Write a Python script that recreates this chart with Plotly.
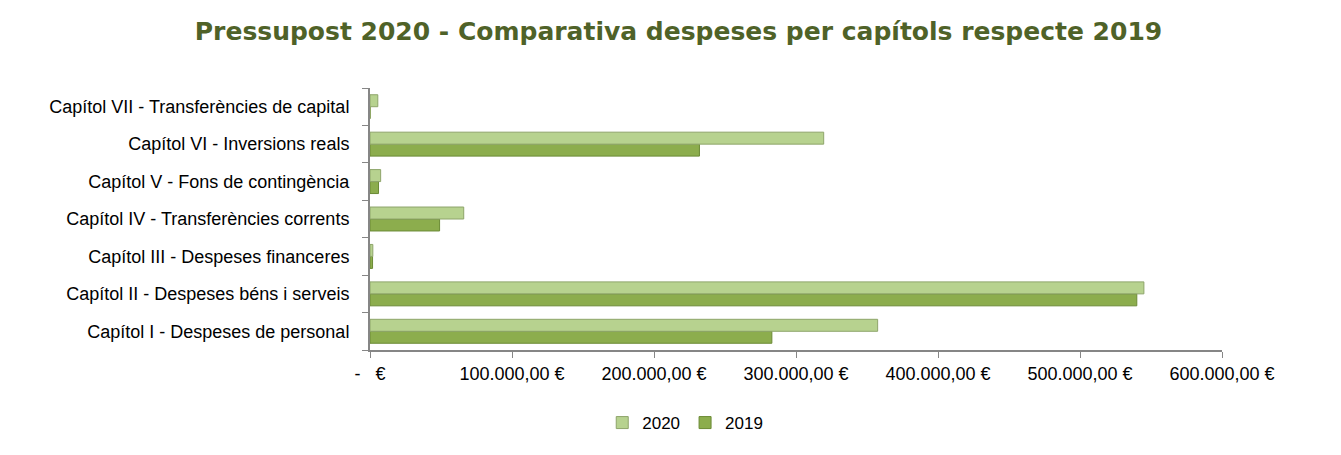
import plotly.graph_objects as go

categories = [
    "Capítol I - Despeses de personal",
    "Capítol II - Despeses béns i serveis",
    "Capítol III - Despeses financeres",
    "Capítol IV - Transferències corrents",
    "Capítol V - Fons de contingència",
    "Capítol VI - Inversions reals",
    "Capítol VII - Transferències de capital",
]
values_2020 = [357500, 545000, 2000, 66000, 7500, 319500, 5500]
values_2019 = [283000, 540000, 1800, 49000, 6000, 232000, 0]

tick_vals = [0, 100000, 200000, 300000, 400000, 500000, 600000]
tick_text = ["-   €", "100.000,00 €", "200.000,00 €", "300.000,00 €",
             "400.000,00 €", "500.000,00 €", "600.000,00 €"]

c2020 = "#b7d28f"
c2019 = "#8cad4d"

fig = go.Figure()
fig.add_trace(go.Bar(
    y=categories, x=values_2019, orientation="h", name="2019",
    marker=dict(color=c2019, line=dict(color="#6b8a35", width=1)),
))
fig.add_trace(go.Bar(
    y=categories, x=values_2020, orientation="h", name="2020",
    marker=dict(color=c2020, line=dict(color="#8ea56a", width=1)),
))

fig.update_layout(
    width=1341, height=455,
    paper_bgcolor="white", plot_bgcolor="white",
    margin=dict(l=362, r=127, t=80, b=113),
    barmode="group", bargap=0.36, bargroupgap=0.0,
    title=dict(
        text="<b>Pressupost 2020 - Comparativa despeses per capítols respecte 2019</b>",
        x=0.5, xanchor="center", y=0.95, yanchor="middle",
        font=dict(family="DejaVu Sans", size=25, color="#4f6228"),
    ),
    font=dict(family="Liberation Sans", size=18, color="#000000"),
    legend=dict(
        orientation="h", x=0.37, xanchor="center", y=-0.21, yanchor="top",
        traceorder="reversed", font=dict(size=17), itemwidth=30,
    ),
    xaxis=dict(
        range=[0, 600000], tickvals=tick_vals, ticktext=tick_text,
        showgrid=False, zeroline=False, showline=True, linecolor="#868686",
        linewidth=2, ticks="outside", tickcolor="#868686", ticklen=6,
        tickfont=dict(size=18),
    ),
    yaxis=dict(
        showgrid=False, zeroline=False, showline=True, linecolor="#868686",
        linewidth=2, ticks="outside", tickson="boundaries", ticklen=6,
        tickcolor="#868686", tickfont=dict(size=18), ticklabelstandoff=15,
    ),
)

fig.write_html("out.html")
